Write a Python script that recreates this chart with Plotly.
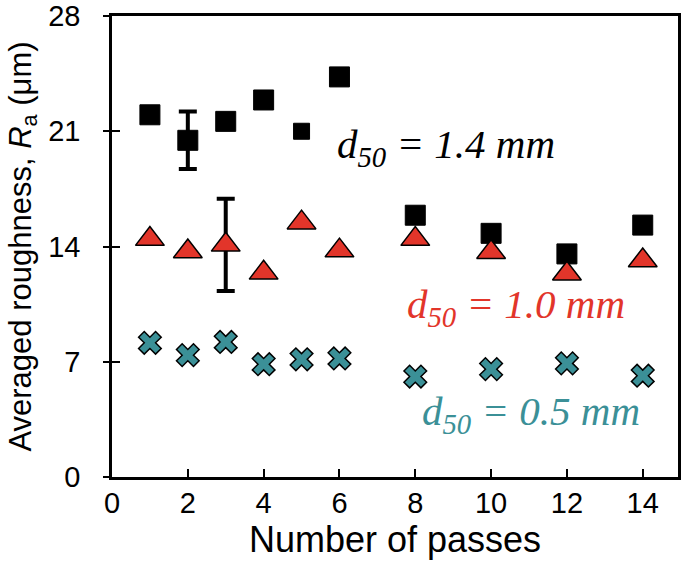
import plotly.graph_objects as go

# Number of passes
passes = [1, 2, 3, 4, 5, 6, 8, 10, 12, 14]

# Averaged roughness Ra (um) for each median grain size
ra_14 = [22.0, 20.45, 21.6, 22.9, 21.0, 24.3, 15.9, 14.8, 13.55, 15.3]
ra_10 = [14.45, 13.7, 14.1, 12.4, 15.45, 13.75, 14.45, 13.65, 12.35, 13.15]
ra_05 = [8.15, 7.4, 8.2, 6.85, 7.15, 7.2, 6.1, 6.55, 6.9, 6.15]

# error bars, only measured on one point of each coarse series
err_14_idx, err_14 = 1, 1.75
err_10_idx, err_10 = 2, 2.8

sq_sizes = [20, 20, 20, 20, 16, 20, 20, 20, 20, 20]

RED = "#e2352a"
TEAL = "#3b9097"

fig = go.Figure()

# error bars first so the markers sit on top
fig.add_trace(go.Scatter(
    x=[passes[err_14_idx]], y=[ra_14[err_14_idx]], mode="markers",
    marker=dict(opacity=0), hoverinfo="skip",
    error_y=dict(type="data", array=[err_14], color="black", thickness=4, width=9),
))
fig.add_trace(go.Scatter(
    x=passes, y=ra_14, mode="markers", name="d50 = 1.4 mm",
    marker=dict(symbol="square", size=sq_sizes, color="black", opacity=1,
                line=dict(color="black", width=1)),
))
fig.add_trace(go.Scatter(
    x=[passes[err_10_idx]], y=[ra_10[err_10_idx]], mode="markers",
    marker=dict(opacity=0), hoverinfo="skip",
    error_y=dict(type="data", array=[err_10], color="black", thickness=4, width=9),
))
fig.add_trace(go.Scatter(
    x=passes, y=ra_10, mode="markers", name="d50 = 1.0 mm",
    marker=dict(symbol="triangle-up", size=25, color=RED,
                line=dict(color="black", width=1.5)),
))
fig.add_trace(go.Scatter(
    x=passes, y=ra_05, mode="markers", name="d50 = 0.5 mm",
    marker=dict(symbol="x", size=20, color=TEAL,
                line=dict(color="black", width=1.5)),
))
# dummy trace so the inner tick axis gets drawn
fig.add_trace(go.Scatter(
    x=passes, y=ra_05, yaxis="y2", mode="markers",
    marker=dict(opacity=0), hoverinfo="skip", showlegend=False,
))

label_font = dict(family="Liberation Serif", size=41)
fig.add_annotation(x=8.81, y=20.05, text="<i>d<sub>50</sub> = 1.4 mm</i>",
                   showarrow=False, font=dict(color="black", **label_font))
fig.add_annotation(x=10.66, y=10.35, text="<i>d<sub>50</sub> = 1.0 mm</i>",
                   showarrow=False, font=dict(color=RED, **label_font))
fig.add_annotation(x=11.06, y=3.85, text="<i>d<sub>50</sub> = 0.5 mm</i>",
                   showarrow=False, font=dict(color=TEAL, **label_font))

sans = "Liberation Sans, Arial, sans-serif"

fig.update_layout(
    width=685, height=567,
    margin=dict(l=112, r=7, t=16, b=90, autoexpand=False),
    plot_bgcolor="white", paper_bgcolor="white",
    showlegend=False,
    font=dict(family=sans, color="black"),
    xaxis=dict(
        range=[0, 14.93], tickvals=[0, 2, 4, 6, 8, 10, 12, 14],
        ticks="inside", ticklen=8, tickwidth=1.5, tickcolor="black",
        showline=True, linewidth=2.5, linecolor="black", mirror=True,
        showgrid=False, zeroline=False, automargin=False,
        tickfont=dict(size=29), ticklabelstandoff=-2,
        title=dict(text="Number of passes", font=dict(size=36), standoff=3),
    ),
    yaxis=dict(
        range=[0, 28], tickvals=[0, 7, 14, 21, 28],
        ticks="outside", ticklen=6, tickwidth=1.5, tickcolor="black",
        showline=True, linewidth=2.5, linecolor="black", mirror=True,
        showgrid=False, zeroline=False, automargin=False,
        tickfont=dict(size=29), ticklabelstandoff=17,
        title=dict(text="Averaged roughness, <i>R</i><sub>a</sub> (μm)",
                   font=dict(size=31), standoff=8),
    ),
    yaxis2=dict(
        range=[0, 28], tickvals=[0, 7, 14, 21, 28], overlaying="y", side="left",
        ticks="inside", ticklen=8, tickwidth=1.5, tickcolor="black",
        showticklabels=False, showgrid=False, zeroline=False, showline=False,
    ),
)

# drop the browser's default body margin so the figure sits at the page origin
fig.write_html("out.html", config={"displayModeBar": False},
               post_script="document.body.style.margin = '0';")
